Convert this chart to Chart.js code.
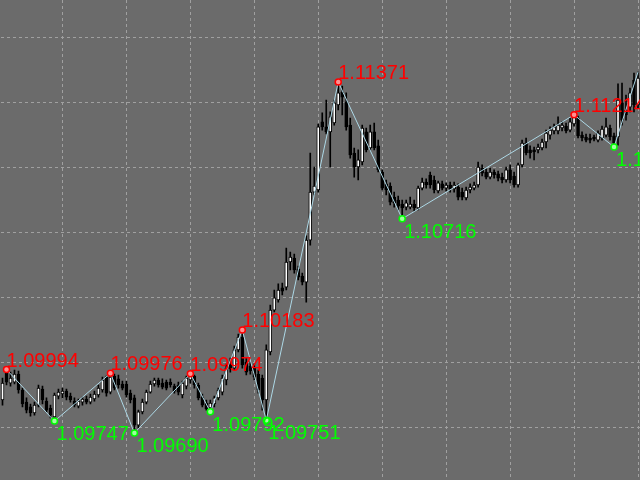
<!DOCTYPE html>
<html>
<head>
<meta charset="utf-8">
<script src="https://cdn.jsdelivr.net/npm/chart.js@4.4.1/dist/chart.umd.min.js"></script>
<style>
  html, body { margin: 0; padding: 0; background: #6b6b6b; overflow: hidden; }
  canvas { display: block; }
</style>
</head>
<body>
<canvas id="chart" width="640" height="480"></canvas>
<script>
// EURUSD-style bars, one row = 10 bars
const opens = [
  1.09848, 1.09977, 1.09929, 1.09934, 1.09972, 1.09896, 1.09838, 1.09815, 1.09786, 1.09824,
  1.09901, 1.09843, 1.09810, 1.09767, 1.09867, 1.09877, 1.09891, 1.09867, 1.09843, 1.09819,
  1.09838, 1.09853, 1.09838, 1.09853, 1.09872, 1.09896, 1.09958, 1.09886, 1.09963, 1.09949,
  1.09925, 1.09925, 1.09881, 1.09858, 1.09728, 1.09791, 1.09838, 1.09886, 1.09925, 1.09944,
  1.09929, 1.09934, 1.09934, 1.09915, 1.09920, 1.09872, 1.09915, 1.09944, 1.09963, 1.09920,
  1.09862, 1.09834, 1.09810, 1.09829, 1.09858, 1.09886, 1.09944, 1.10030, 1.10001, 1.10088,
  1.10150, 1.10030, 1.10011, 1.10001, 1.09972, 1.09953, 1.09848, 1.10078, 1.10279, 1.10327,
  1.10385, 1.10389, 1.10509, 1.10528, 1.10475, 1.10442, 1.10413, 1.10614, 1.10844, 1.10854,
  1.11180, 1.11156, 1.11132, 1.11175, 1.11261, 1.11323, 1.11275, 1.11165, 1.11031, 1.10964,
  1.10988, 1.11132, 1.11055, 1.11132, 1.11065, 1.10940, 1.10883, 1.10873, 1.10820, 1.10806,
  1.10787, 1.10772, 1.10772, 1.10787, 1.10768, 1.10863, 1.10892, 1.10926, 1.10902, 1.10849,
  1.10883, 1.10863, 1.10878, 1.10859, 1.10868, 1.10844, 1.10816, 1.10854, 1.10863, 1.10878,
  1.10959, 1.10940, 1.10916, 1.10940, 1.10931, 1.10916, 1.10902, 1.10950, 1.10921, 1.10878,
  1.10974, 1.11079, 1.11046, 1.11046, 1.11046, 1.11055, 1.11084, 1.11117, 1.11137, 1.11137,
  1.11151, 1.11160, 1.11141, 1.11170, 1.11199, 1.11117, 1.11108, 1.11103, 1.11108, 1.11093,
  1.11103, 1.11117, 1.11151, 1.11113, 1.11108, 1.11271, 1.11237, 1.11251, 1.11381, 1.11261
];
const highs = [
  1.09953, 1.09994, 1.09982, 1.09992, 1.09987, 1.09905, 1.09858, 1.09829, 1.09838, 1.09920,
  1.09915, 1.09858, 1.09824, 1.09881, 1.09901, 1.09905, 1.09901, 1.09881, 1.09858, 1.09853,
  1.09862, 1.09867, 1.09877, 1.09891, 1.09920, 1.09958, 1.09963, 1.09976, 1.09972, 1.09968,
  1.09939, 1.09939, 1.09896, 1.09872, 1.09800, 1.09853, 1.09896, 1.09939, 1.09953, 1.09953,
  1.09949, 1.09944, 1.09949, 1.09925, 1.09934, 1.09939, 1.09963, 1.09974, 1.09968, 1.09929,
  1.09877, 1.09848, 1.09848, 1.09867, 1.09905, 1.09968, 1.10020, 1.10049, 1.10107, 1.10164,
  1.10183, 1.10049, 1.10030, 1.10020, 1.09992, 1.09968, 1.10112, 1.10303, 1.10375, 1.10404,
  1.10408, 1.10576, 1.10557, 1.10547, 1.10490, 1.10456, 1.10634, 1.11031, 1.10964, 1.11170,
  1.11223, 1.11285, 1.11228, 1.11285, 1.11371, 1.11352, 1.11319, 1.11199, 1.11055, 1.11046,
  1.11165, 1.11151, 1.11165, 1.11175, 1.11093, 1.10950, 1.10902, 1.10888, 1.10844, 1.10825,
  1.10806, 1.10806, 1.10820, 1.10806, 1.10873, 1.10911, 1.10907, 1.10940, 1.10921, 1.10897,
  1.10897, 1.10888, 1.10892, 1.10892, 1.10883, 1.10863, 1.10868, 1.10883, 1.10892, 1.10988,
  1.10974, 1.10955, 1.10959, 1.10950, 1.10945, 1.10935, 1.10964, 1.10974, 1.10940, 1.10983,
  1.11093, 1.11103, 1.11065, 1.11060, 1.11074, 1.11098, 1.11141, 1.11156, 1.11170, 1.11204,
  1.11180, 1.11175, 1.11199, 1.11214, 1.11208, 1.11132, 1.11122, 1.11122, 1.11117, 1.11137,
  1.11160, 1.11199, 1.11165, 1.11127, 1.11362, 1.11366, 1.11309, 1.11342, 1.11414, 1.11419
];
const lows = [
  1.09824, 1.09920, 1.09915, 1.09925, 1.09881, 1.09815, 1.09786, 1.09771, 1.09776, 1.09815,
  1.09829, 1.09791, 1.09762, 1.09747, 1.09853, 1.09858, 1.09848, 1.09838, 1.09815, 1.09810,
  1.09824, 1.09829, 1.09829, 1.09843, 1.09862, 1.09886, 1.09867, 1.09877, 1.09896, 1.09905,
  1.09896, 1.09862, 1.09834, 1.09690, 1.09714, 1.09781, 1.09829, 1.09881, 1.09915, 1.09910,
  1.09901, 1.09896, 1.09910, 1.09881, 1.09872, 1.09858, 1.09901, 1.09929, 1.09905, 1.09848,
  1.09815, 1.09800, 1.09792, 1.09815, 1.09848, 1.09872, 1.09920, 1.09982, 1.09992, 1.10078,
  1.10001, 1.09968, 1.09972, 1.09944, 1.09881, 1.09800, 1.09751, 1.10064, 1.10270, 1.10317,
  1.10351, 1.10375, 1.10471, 1.10456, 1.10423, 1.10399, 1.10317, 1.10590, 1.10830, 1.10844,
  1.11141, 1.11122, 1.10964, 1.11165, 1.11237, 1.11213, 1.11141, 1.11007, 1.10916, 1.10902,
  1.10974, 1.11036, 1.11046, 1.11046, 1.10940, 1.10854, 1.10830, 1.10782, 1.10772, 1.10758,
  1.10716, 1.10758, 1.10763, 1.10753, 1.10758, 1.10854, 1.10863, 1.10863, 1.10840, 1.10840,
  1.10854, 1.10849, 1.10844, 1.10844, 1.10806, 1.10806, 1.10806, 1.10840, 1.10854, 1.10868,
  1.10921, 1.10907, 1.10907, 1.10911, 1.10897, 1.10888, 1.10892, 1.10888, 1.10868, 1.10868,
  1.10964, 1.11022, 1.11007, 1.10998, 1.11031, 1.11046, 1.11055, 1.11098, 1.11122, 1.11122,
  1.11137, 1.11127, 1.11132, 1.11160, 1.11103, 1.11089, 1.11084, 1.11079, 1.11089, 1.11084,
  1.11093, 1.11108, 1.11093, 1.11060, 1.11069, 1.11165, 1.11189, 1.11228, 1.11228, 1.11247
];
const closes = [
  1.09929, 1.09934, 1.09953, 1.09972, 1.09896, 1.09829, 1.09800, 1.09786, 1.09824, 1.09905,
  1.09848, 1.09800, 1.09776, 1.09872, 1.09886, 1.09891, 1.09862, 1.09848, 1.09824, 1.09843,
  1.09853, 1.09838, 1.09862, 1.09877, 1.09905, 1.09944, 1.09881, 1.09958, 1.09905, 1.09920,
  1.09905, 1.09872, 1.09848, 1.09728, 1.09791, 1.09838, 1.09886, 1.09925, 1.09944, 1.09920,
  1.09910, 1.09905, 1.09920, 1.09891, 1.09886, 1.09929, 1.09953, 1.09963, 1.09920, 1.09858,
  1.09824, 1.09805, 1.09834, 1.09858, 1.09896, 1.09953, 1.10001, 1.09997, 1.10088, 1.10150,
  1.10016, 1.09982, 1.09987, 1.09958, 1.09896, 1.09848, 1.10088, 1.10279, 1.10337, 1.10375,
  1.10370, 1.10509, 1.10533, 1.10471, 1.10437, 1.10413, 1.10614, 1.10844, 1.10873, 1.11156,
  1.11156, 1.11132, 1.11204, 1.11271, 1.11319, 1.11299, 1.11156, 1.11022, 1.10964, 1.10998,
  1.11151, 1.11046, 1.11132, 1.11055, 1.10950, 1.10863, 1.10854, 1.10796, 1.10792, 1.10777,
  1.10768, 1.10792, 1.10787, 1.10768, 1.10863, 1.10892, 1.10878, 1.10878, 1.10854, 1.10888,
  1.10863, 1.10878, 1.10859, 1.10878, 1.10820, 1.10820, 1.10854, 1.10868, 1.10878, 1.10964,
  1.10935, 1.10916, 1.10940, 1.10926, 1.10911, 1.10902, 1.10950, 1.10902, 1.10878, 1.10974,
  1.11079, 1.11031, 1.11031, 1.11036, 1.11060, 1.11084, 1.11127, 1.11141, 1.11156, 1.11165,
  1.11165, 1.11137, 1.11180, 1.11204, 1.11113, 1.11103, 1.11093, 1.11093, 1.11098, 1.11127,
  1.11146, 1.11156, 1.11108, 1.11079, 1.11285, 1.11189, 1.11213, 1.11319, 1.11261, 1.11390
];

// zigzag turning points (bar index, price, H/L); last leg is still open, so no label
const zzIndex = [1, 13, 27, 33, 47, 52, 60, 66, 84, 100, 143, 153, 159];
const zzPrice = [1.09994, 1.09747, 1.09976, 1.09690, 1.09974, 1.09792, 1.10183, 1.09751,
                 1.11371, 1.10716, 1.11214, 1.11060, 1.11419];
const zzType = ['H', 'L', 'H', 'L', 'H', 'L', 'H', 'L', 'H', 'L', 'H', 'L', 'H'];
const zzLabeled = [1, 1, 1, 1, 1, 1, 1, 1, 1, 1, 1, 1, 0];

// horizontal grid levels
const gridPrices = [1.11582, 1.11271, 1.10960, 1.10649, 1.10338, 1.10027, 1.09716];

const BG = '#6b6b6b';
const GRID = '#a0a0a0';
const HIGH_COLOR = '#ff0000';
const LOW_COLOR = '#00ff00';

const bars = opens.map((_, i) => i);
const zigzag = opens.map(() => null);
zzIndex.forEach((k, j) => { zigzag[k] = zzPrice[j]; });

function pivotAt(i) {
  return zzIndex.indexOf(i);
}

const background = {
  id: 'background',
  beforeDraw(chart) {
    const { ctx, width, height } = chart;
    ctx.save();
    ctx.fillStyle = BG;
    ctx.fillRect(0, 0, width, height);
    ctx.restore();
  }
};

const pivotLabels = {
  id: 'pivotLabels',
  afterDatasetsDraw(chart) {
    const { ctx, scales: { x, y } } = chart;
    ctx.save();
    ctx.font = '20px "Liberation Sans", Arial, sans-serif';
    ctx.textBaseline = 'alphabetic';
    zzIndex.forEach((k, j) => {
      if (!zzLabeled[j]) return;
      const px = x.getPixelForValue(k);
      const py = y.getPixelForValue(zzPrice[j]);
      const isHigh = zzType[j] === 'H';
      ctx.fillStyle = isHigh ? HIGH_COLOR : LOW_COLOR;
      ctx.fillText(zzPrice[j].toFixed(5), px + (isHigh ? 0 : 2), isHigh ? py - 3 : py + 19);
    });
    ctx.restore();
  }
};

new Chart(document.getElementById('chart'), {
  type: 'bar',
  data: {
    labels: bars,
    datasets: [
      {
        type: 'line',
        data: zigzag,
        spanGaps: true,
        borderColor: '#add8e6',
        borderWidth: 1,
        tension: 0,
        pointRadius: ctx => {
          const j = pivotAt(ctx.dataIndex);
          return j >= 0 && zzLabeled[j] ? 3 : 0;
        },
        pointBorderWidth: 1.5,
        pointBorderColor: ctx => {
          const j = pivotAt(ctx.dataIndex);
          return j >= 0 && zzType[j] === 'H' ? HIGH_COLOR : LOW_COLOR;
        },
        pointBackgroundColor: ctx => {
          const j = pivotAt(ctx.dataIndex);
          return j >= 0 && zzType[j] === 'H' ? '#ff9090' : '#a0ffa0';
        },
        order: 0
      },
      {
        // bodies
        data: opens.map((o, i) => [o, closes[i]]),
        backgroundColor: opens.map((o, i) => closes[i] >= o ? '#ffffff' : '#000000'),
        borderColor: '#000000',
        borderWidth: 1,
        borderSkipped: false,
        barThickness: 3,
        grouped: false,
        order: 1
      },
      {
        // wicks
        data: lows.map((l, i) => [l, highs[i]]),
        backgroundColor: '#000000',
        borderWidth: 0,
        barThickness: 1,
        grouped: false,
        order: 2
      }
    ]
  },
  options: {
    responsive: false,
    animation: false,
    events: [],
    layout: { padding: { left: 0.5, right: -0.5, top: 0, bottom: 0 } },
    plugins: {
      legend: { display: false },
      tooltip: { enabled: false }
    },
    scales: {
      x: {
        offset: true,
        ticks: { display: false },
        border: { display: false, dash: [3, 3] },
        grid: {
          offset: false,
          drawTicks: false,
          color: ctx => ctx.index % 16 === 15 ? GRID : 'rgba(0,0,0,0)'
        }
      },
      y: {
        min: 1.09465,
        max: 1.11764,
        ticks: { display: false },
        afterBuildTicks(axis) {
          axis.ticks = gridPrices.map(v => ({ value: v }));
        },
        border: { display: false, dash: [3, 3] },
        grid: { drawTicks: false, color: GRID }
      }
    }
  },
  plugins: [background, pivotLabels]
});
</script>
</body>
</html>
